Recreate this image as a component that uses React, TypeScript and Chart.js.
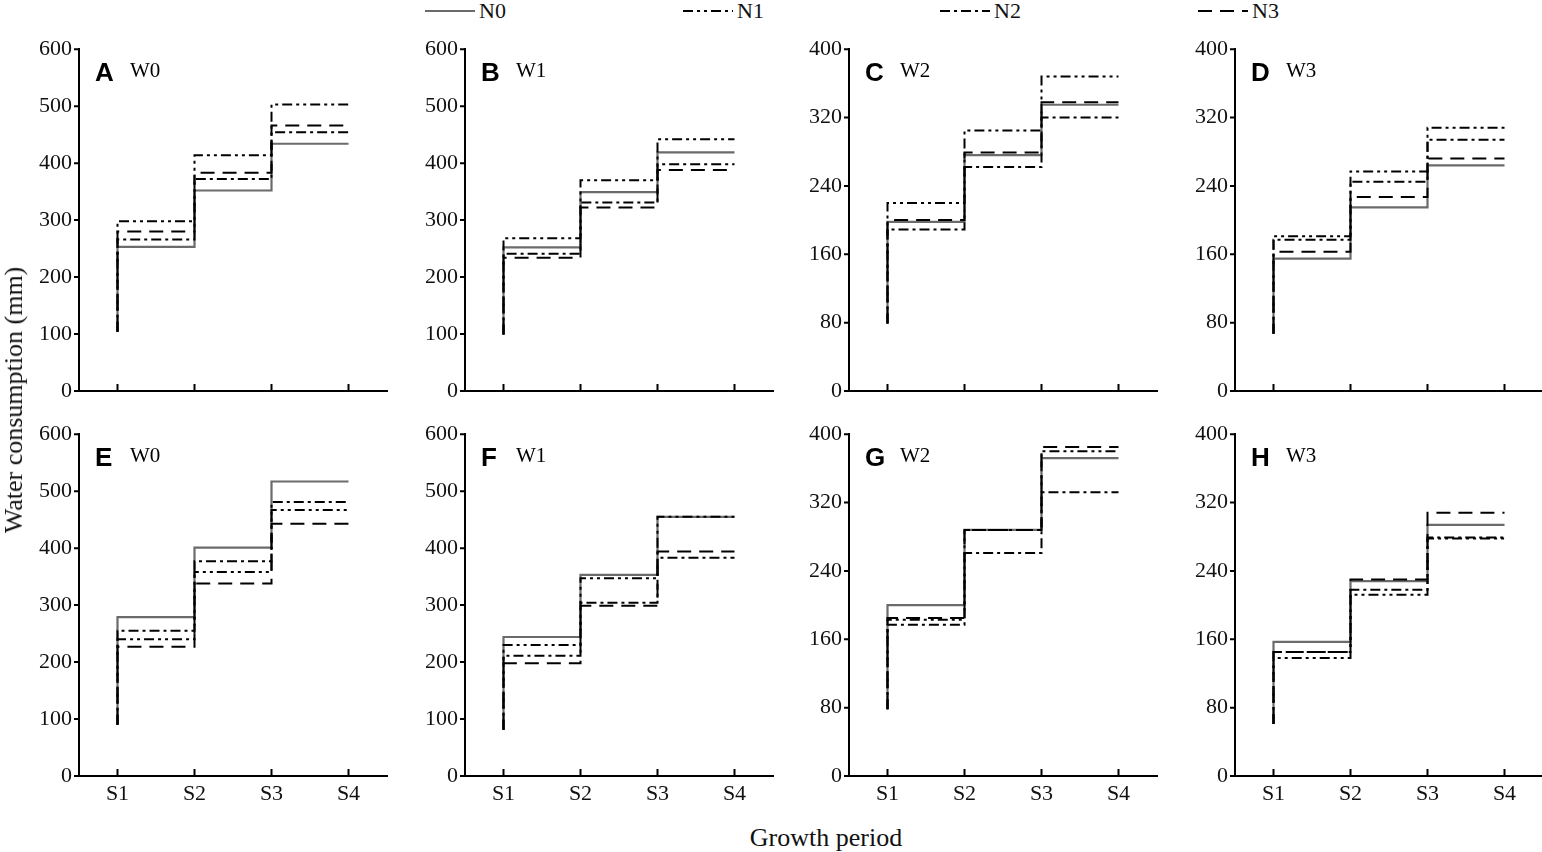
import React, { useEffect, useRef } from 'react';
import { Chart, registerables } from 'chart.js';

Chart.register(...registerables);

// growth periods on the x axis
const PERIODS = ['S1', 'S2', 'S3', 'S4'];
const PANEL_LETTERS = ['A', 'B', 'C', 'D', 'E', 'F', 'G', 'H'];
const WATER_LEVELS = ['W0', 'W1', 'W2', 'W3', 'W0', 'W1', 'W2', 'W3'];
const Y_MAX = [600, 600, 400, 400, 600, 600, 400, 400];
const Y_STEP = [100, 100, 80, 80, 100, 100, 80, 80];

// value where every curve starts at S1 (mm)
const START = [104, 99, 79, 67, 90, 81, 78, 61];

// cumulative water consumption (mm) at S1-S2, S2-S3, S3-S4 for each panel
const N0 = [
  [253, 352, 434], [252, 349, 419], [198, 276, 335], [155, 215, 264],
  [279, 401, 517], [244, 353, 455], [200, 288, 372], [157, 228, 294],
];
const N1 = [
  [298, 414, 503], [268, 370, 442], [220, 305, 368], [181, 257, 308],
  [240, 358, 467], [230, 347, 455], [183, 288, 380], [138, 212, 278],
];
const N2 = [
  [266, 372, 454], [241, 331, 398], [189, 262, 320], [177, 245, 294],
  [255, 377, 481], [211, 304, 383], [177, 261, 332], [145, 218, 279],
];
const N3 = [
  [280, 383, 466], [234, 322, 388], [200, 279, 338], [163, 227, 272],
  [227, 338, 443], [198, 299, 394], [185, 288, 385], [145, 230, 308],
];

const SERIES_NAMES = ['N0', 'N1', 'N2', 'N3'];
const SERIES_VALUES = [N0, N1, N2, N3];

const LINE_COLOR = ['#6b6b6b', '#000', '#000', '#000'];
const LINE_DASH = [[], [10, 4, 3, 4, 3, 4], [10, 4, 3, 4], [14, 8]];

const SERIF = 'Liberation Serif';
const SANS = 'Liberation Sans';

Chart.defaults.font.family = `"${SERIF}", serif`;

const COL_LEFT = [79, 465, 849, 1235];
const ROW_TOP = [45, 430];
const AREA_W = 308;
const AREA_H = 346;
const AXIS_W = 60;
const AXIS_H = 34;
const PAD_TOP = 16;
const PAD_RIGHT = 4;

const stepPoints = (start: number, vals: number[]) => [
  { x: 1, y: start },
  ...vals.map((y, i) => ({ x: i + 1, y })),
  { x: PERIODS.length, y: vals[vals.length - 1] },
];

const decor = (p: number) => ({
  id: 'decor' + p,
  afterDraw(chart: any) {
    const { ctx, chartArea } = chart;
    const xs = chart.scales.x;
    const ys = chart.scales.y;
    ctx.save();
    ctx.strokeStyle = '#000';
    ctx.lineWidth = 2;
    ctx.beginPath();
    xs.ticks.forEach((t: any) => {
      const px = xs.getPixelForValue(t.value);
      ctx.moveTo(px, chartArea.bottom);
      ctx.lineTo(px, chartArea.bottom - 7);
    });
    ys.ticks.forEach((t: any) => {
      const py = ys.getPixelForValue(t.value);
      ctx.moveTo(chartArea.left, py);
      ctx.lineTo(chartArea.left - 5, py);
    });
    ctx.stroke();

    ctx.fillStyle = '#000';
    ctx.textBaseline = 'alphabetic';
    ctx.font = `bold 26px "${SANS}"`;
    ctx.fillText(PANEL_LETTERS[p], chartArea.left + 16, chartArea.top + 32);
    ctx.font = `21px "${SERIF}"`;
    ctx.fillText(WATER_LEVELS[p], chartArea.left + 51, chartArea.top + 28);
    ctx.restore();
  },
});

function Panel({ p }: { p: number }) {
  const ref = useRef<HTMLCanvasElement>(null);
  const row = Math.floor(p / 4);
  const col = p % 4;

  useEffect(() => {
    if (!ref.current) return;
    const chart = new Chart(ref.current, {
      type: 'line',
      data: {
        datasets: SERIES_NAMES.map((name, s) => ({
          label: name,
          data: stepPoints(START[p], SERIES_VALUES[s][p]),
          borderColor: LINE_COLOR[s],
          borderWidth: s === 0 ? 2.2 : 2,
          borderDash: LINE_DASH[s],
          stepped: true,
          pointRadius: 0,
          fill: false,
          order: s === 0 ? 1 : 0,
        })),
      },
      options: {
        animation: false,
        responsive: true,
        maintainAspectRatio: false,
        layout: { padding: { top: PAD_TOP, right: PAD_RIGHT, left: 0, bottom: 0 } },
        plugins: { legend: { display: false }, tooltip: { enabled: false } },
        scales: {
          x: {
            type: 'linear',
            min: 0.5,
            max: PERIODS.length + 0.5,
            afterBuildTicks: (s: any) => {
              s.ticks = PERIODS.map((_, i) => ({ value: i + 1 }));
            },
            afterFit: (s: any) => {
              s.height = AXIS_H;
            },
            grid: { display: false, drawTicks: false },
            border: { display: true, color: '#000', width: 2 },
            ticks: {
              display: row === 1,
              callback: (v: any) => PERIODS[Math.round(v) - 1],
              font: { family: `"${SERIF}", serif`, size: 22 },
              color: '#111',
              padding: 5,
              maxRotation: 0,
              autoSkip: false,
            },
          },
          y: {
            min: 0,
            max: Y_MAX[p],
            afterFit: (s: any) => {
              s.width = AXIS_W;
            },
            grid: { display: false, drawTicks: false },
            border: { display: true, color: '#000', width: 2 },
            ticks: {
              stepSize: Y_STEP[p],
              font: { family: `"${SERIF}", serif`, size: 22 },
              color: '#111',
              padding: 7,
            },
          },
        },
      },
      plugins: [decor(p)],
    } as any);
    return () => chart.destroy();
  }, [p]);

  return (
    <div
      style={{
        position: 'absolute',
        left: COL_LEFT[col] - AXIS_W,
        top: ROW_TOP[row] - PAD_TOP,
        width: AXIS_W + AREA_W + PAD_RIGHT,
        height: PAD_TOP + AREA_H + AXIS_H,
      }}
    >
      <canvas ref={ref} />
    </div>
  );
}

const LEGEND_LEFT = [425, 683, 940, 1198];

export default function App() {
  useEffect(() => {
    document.body.style.margin = '0';
  }, []);

  return (
    <div
      style={{
        position: 'absolute',
        left: 0,
        top: 0,
        width: 1542,
        height: 852,
        overflow: 'hidden',
        background: '#fff',
        fontFamily: `"${SERIF}", serif`,
        color: '#111',
      }}
    >
      {SERIES_NAMES.map((name, s) => (
        <div
          key={name}
          style={{ position: 'absolute', left: LEGEND_LEFT[s], top: 0, height: 22, display: 'flex', alignItems: 'center' }}
        >
          <svg width={50} height={22}>
            <line
              x1={0}
              y1={11}
              x2={50}
              y2={11}
              stroke={LINE_COLOR[s]}
              strokeWidth={2}
              strokeDasharray={LINE_DASH[s].length ? LINE_DASH[s].join(' ') : undefined}
            />
          </svg>
          <span style={{ fontSize: 22, lineHeight: '22px', marginLeft: 4 }}>{name}</span>
        </div>
      ))}

      {PANEL_LETTERS.map((_, p) => (
        <Panel key={p} p={p} />
      ))}

      <div
        style={{
          position: 'absolute',
          left: 826,
          top: 823,
          transform: 'translateX(-50%)',
          fontSize: 26,
          lineHeight: '30px',
          whiteSpace: 'nowrap',
        }}
      >
        Growth period
      </div>
      <div
        style={{
          position: 'absolute',
          left: 14,
          top: 400,
          transform: 'translate(-50%, -50%) rotate(-90deg)',
          fontSize: 26,
          lineHeight: '30px',
          whiteSpace: 'nowrap',
        }}
      >
        Water consumption (mm)
      </div>
    </div>
  );
}
